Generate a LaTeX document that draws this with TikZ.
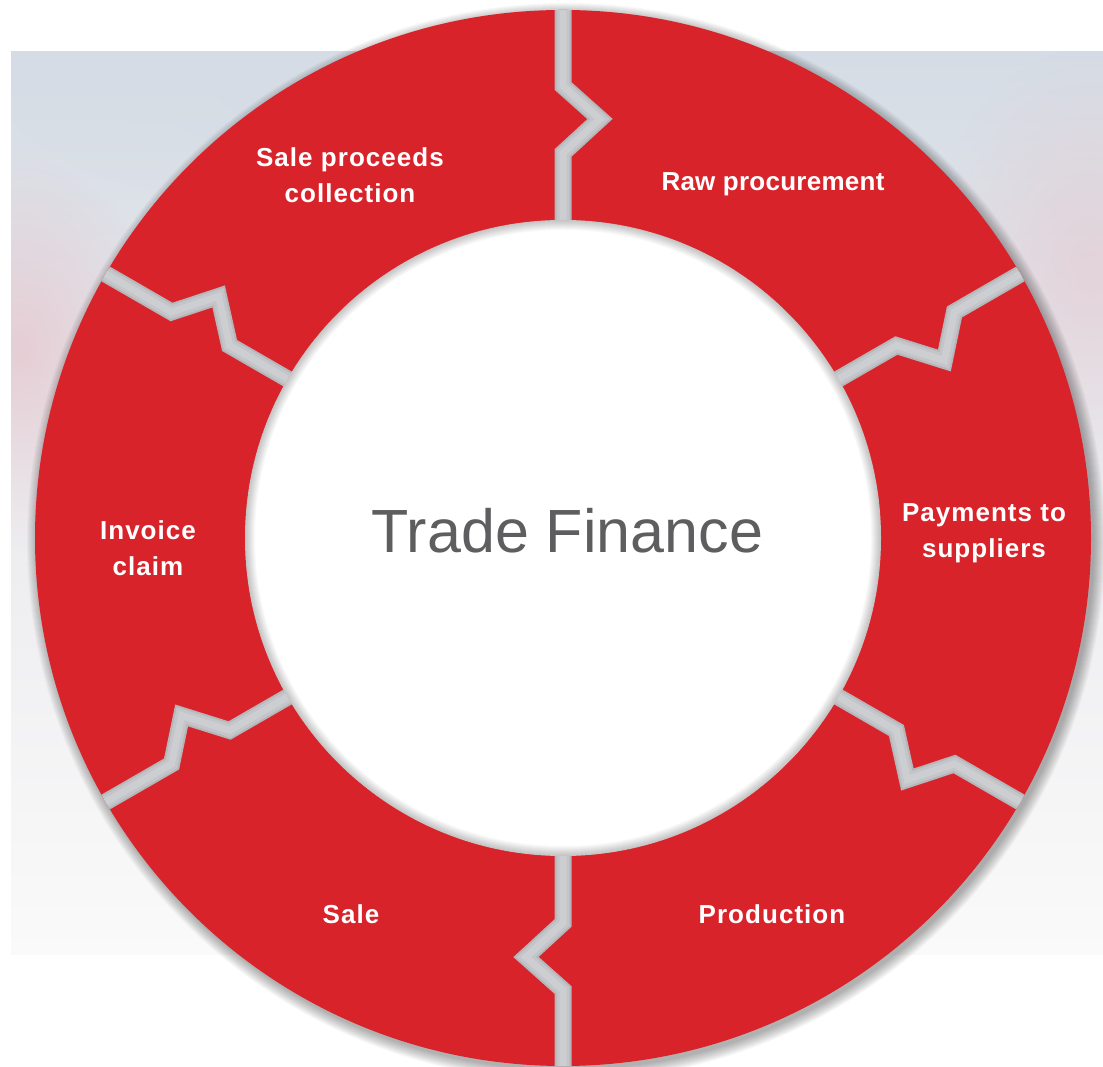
\documentclass[tikz,border=0pt]{standalone}
\usepackage{fontspec}
\setmainfont{Liberation Sans}
\newfontfamily\labfont[LetterSpace=4]{Liberation Sans}
\newfontfamily\labfonttight[LetterSpace=1]{Liberation Sans}
\usetikzlibrary{fadings}
\definecolor{ringred}{HTML}{D9232A}
\definecolor{gapdark}{HTML}{B4B6BA}
\definecolor{gapmid}{HTML}{C3C5C8}
\definecolor{gaplight}{HTML}{CCCED1}
\definecolor{bgtop}{HTML}{D5DCE5}
\definecolor{bgmid}{HTML}{ECECEF}
\definecolor{bgbot}{HTML}{FAFAFA}
\definecolor{pinkish}{HTML}{E6C8CF}
\definecolor{titlegrey}{HTML}{5E5E60}
\tikzfading[name=softblob, inner color=transparent!0, outer color=transparent!100]
\tikzset{
  seglabel/.style={text=white, font=\labfont\bfseries\fontsize{26}{36}\selectfont, align=center, inner sep=0pt},
  titlelabel/.style={text=titlegrey, font=\fontsize{61}{70}\selectfont, inner sep=0pt},
  gapdarkline/.style={draw=gapdark, line width=17pt, line join=miter},
  gapmidline/.style={draw=gapmid, line width=13pt, line join=miter},
  gaplightline/.style={draw=gaplight, line width=7pt, line join=miter}
}
\begin{document}
\begin{tikzpicture}[x=1pt,y=1pt]
\useasboundingbox (0,0) rectangle (1103,1067);
\fill[white] (0,0) rectangle (1103,1067);
% background photo band
\fill[top color=bgtop, bottom color=bgbot, middle color=bgmid] (11,112) rectangle (1103,1015);
\begin{scope}
  \clip (11,112) rectangle (1103,1015);
  \fill[pinkish, opacity=0.8, path fading=softblob] (20,720) ellipse [x radius=140pt, y radius=200pt];
  \fill[pinkish, opacity=0.6, path fading=softblob] (1090,800) ellipse [x radius=160pt, y radius=220pt];
  \fill[bgtop, opacity=0.7, path fading=softblob] (300,980) ellipse [x radius=300pt, y radius=120pt];
\end{scope}
% outer drop shadow
\foreach \k in {1,...,12}
  \fill[black, opacity=0.026] (566,525) circle [radius={(527+\k)*1pt}];
% red ring
\fill[ringred] (563,529) circle [radius=528pt];
% zig-zag gaps
\begin{scope}
  \clip (563,529) circle [radius=528pt];
  \foreach \a in {90,30,-30,-90,-150,150} {
    \begin{scope}[shift={(563,529)}, rotate=\a-90]
      \draw[gapdarkline] (0,545) -- (0,452) -- (37,419) -- (0,385) -- (0,300);
      \draw[gapmidline] (0,545) -- (0,452) -- (37,419) -- (0,385) -- (0,300);
      \draw[gaplightline] (0,545) -- (0,452) -- (37,419) -- (0,385) -- (0,300);
    \end{scope}
  }
\end{scope}
% inner white disk with inner shadow
\fill[white] (563,529) circle [radius=318pt];
\begin{scope}
  \clip (563,529) circle [radius=318pt];
  \foreach \w in {2,4,...,20}
    \draw[black, opacity=0.022, line width=\w pt] (563,529) circle [radius=318pt];
\end{scope}
% labels
\node[seglabel] (salecoll) at (350,891.3) {Sale proceeds\\collection};
\node[seglabel, font=\labfonttight\bfseries\fontsize{26}{36}\selectfont, anchor=base] (rawproc) at (773,876) {Raw procurement};
\node[seglabel] (payments) at (984,533.6) {Payments to\\suppliers};
\node[seglabel] (invoice) at (148,518.6) {Invoice\\claim};
\node[seglabel, anchor=base] (sale) at (351,143.5) {Sale};
\node[seglabel, anchor=base] (production) at (772,143.5) {Production};
\node[titlelabel, anchor=base] (title) at (567.5,514) {Trade Finance};
\end{tikzpicture}
\end{document}
